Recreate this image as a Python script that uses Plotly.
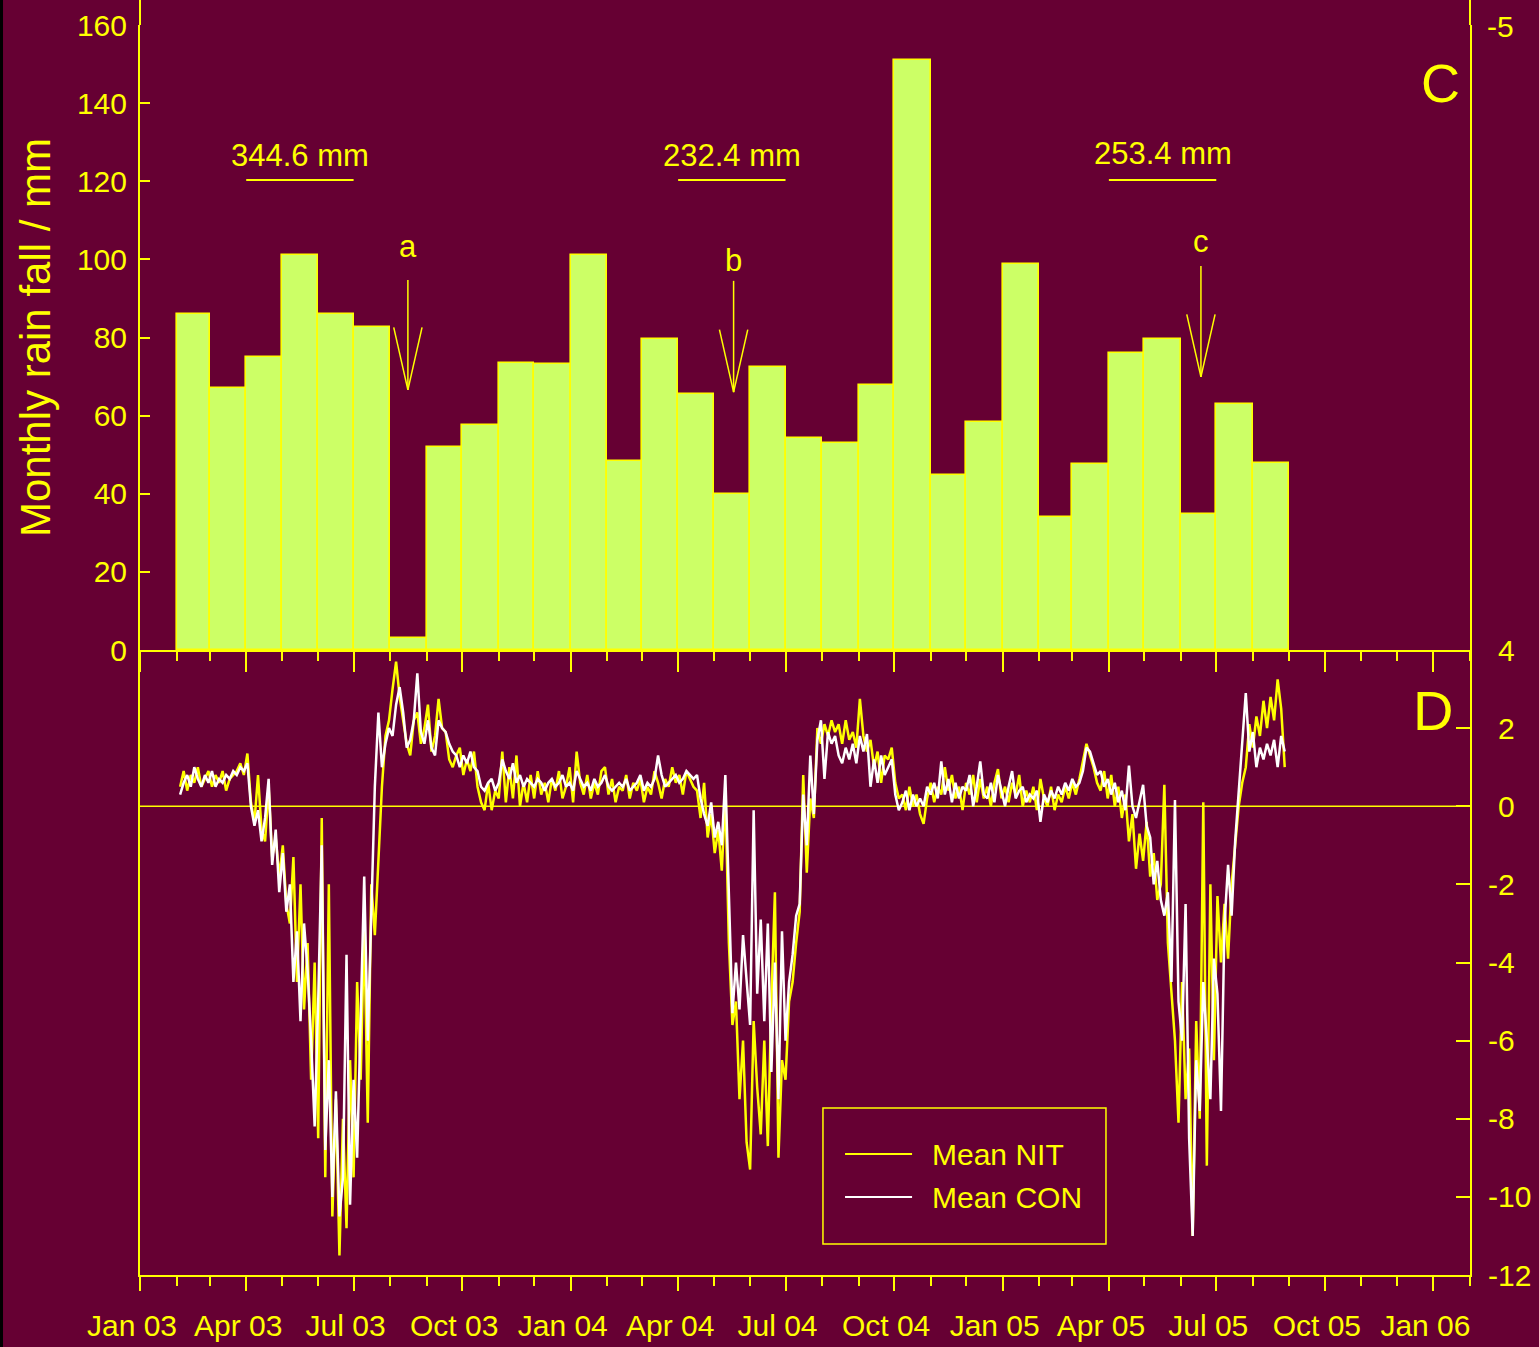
import pandas as pd
import plotly.graph_objects as go

BG = "#660033"
YELLOW = "#ffff00"
WHITE = "#ffffff"
BAR_FILL = "#ccff66"
FONT = "Liberation Sans, Arial, Helvetica, sans-serif"

# ---------------------------------------------------------------- data ----
# Monthly rainfall (mm), one bar per month from Feb 2003 to Aug 2005
rain_month_start = "2003-02-01"
rain_mm = [86, 67, 75, 101, 86, 82.6, 3, 52, 57.5, 73.5, 73.2, 101,
           48.3, 79.6, 65.5, 40, 72.5, 54.4, 53, 67.8, 151, 44.8, 58.4,
           98.8, 34, 47.6, 76, 79.6, 34.8, 63, 47.8]

# Apr-Jul windows whose rainfall total is written above the bars
window_start = ["2003-04-01", "2004-04-01", "2005-04-01"]
window_end = ["2003-07-01", "2004-07-01", "2005-07-01"]
window_line_y = [120.3, 120.3, 120.3]
window_text_y = [126.7, 126.7, 127.2]

# Marked dates a, b, c
event_labels = ["a", "b", "c"]
event_dates = ["2003-08-16", "2004-05-18", "2005-06-18"]
event_top = [94.7, 94.5, 98.3]
event_tip = [66.6, 66.0, 69.9]
event_label_y = [103.2, 99.6, 104.7]

# Mean series sampled every 3 days from 4 Feb 2003
series_start = "2003-02-04"
series_step = "3D"
mean_nit = [
    # Feb - Apr 2003
    0.5, 0.9, 0.4, 0.8, 0.6, 1.0, 0.5, 0.7, 0.9, 0.5, 0.8, 0.6, 0.9, 0.4, 0.7, 0.8, 0.9, 1.1, 0.8, 1.35,
    # Apr - Jun 2003
    0.1, -0.4, 0.8, -0.6, -0.9, 0.5, -1.3, -0.8,
    -1.8, -1.0, -2.5, -3.0, -1.3, -4.5, -2.0, -5.2,
    -3.5, -7.0, -4.0, -8.5, -0.3, -9.5, -2.0, -10.5, -7.5, -11.5,
    -8.0, -10.8, -6.5, -9.5, -4.5, -7.0, -3.0, -8.1, -2.0, -3.3,
    # Aug - Sep 2003
    -1.5, 0.5, 1.8, 2.2, 3.0, 3.7, 2.8, 2.2, 1.6,
    1.3, 2.2, 2.4, 1.6, 2.0, 2.6, 1.4, 1.8, 2.75, 2.0, 1.9, 1.2, 1.0, 1.3,
    # Oct - Dec 2003
    1.5, 0.8, 1.2, 0.9, 1.4, 0.5, 0.1, -0.1, 0.6, -0.1, 0.4, 0.2, 1.4, 0.1, 1.0, 0.2, 1.3, 0.0, 0.6, 0.1,
    # Dec 2003 - Apr 2004
    0.8, 0.2, 0.9, 0.3, 0.6, 0.1, 0.7, 0.4, 0.9, 0.2, 0.5, 1.0, 0.1, 1.4, 0.6, 0.3, 0.8, 0.2, 0.6, 0.3,
    0.9, 1.0, 0.3, 0.7, 0.1, 0.5, 0.4, 0.8, 0.2, 0.6, 0.4, 0.7, 0.1, 0.5, 0.3, 0.9, 0.6, 0.2, 0.7, 0.5,
    1.0, 0.6, 0.8, 0.3, 0.9, 0.7, 0.5,
    # Apr - May 2004
    0.4, -0.3, 0.6, -0.8, -0.2, -1.2, -0.6, -1.65, 0.3, -3.5, -5.6,
    # May - Jul 2004
    -5.0, -7.5, -6.0, -8.6, -9.3, -5.5, -7.2, -8.4, -6.0, -8.7, -5.0, -2.2, -9.0, -6.5, -7.0, -5.0, -4.5, -3.5, -2.7,
    # Jul - Oct 2004
    0.8, -1.7, 0.2, -0.3, 2.0, 1.6, 2.1, 1.8, 2.2, 1.9,
    2.1, 1.6, 2.2, 1.7, 1.9, 1.5, 2.75, 1.8, 1.4, 1.7, 1.0, 1.4, 0.6, 1.3,
    1.2, 1.5, 0.6, 0.2,
    # Oct 2004 - Mar 2005
    0.3, -0.1, 0.5, 0.0, 0.3, -0.2, -0.45, 0.2, 0.6, 0.1,
    0.5, 0.3, 1.0, 0.4, 0.8, 0.2, 0.5, -0.1, 0.6, 0.3,
    0.8, 0.1, 0.7, 0.2, 0.5, 0.0, 0.6, 0.95, 0.2, 0.5,
    0.1, 0.6, 0.3, 0.8, 0.0, 0.4, 0.1, 0.5, -0.1, 0.7,
    0.2, 0.0, 0.5, -0.1, 0.3, 0.1, 0.5, 0.2, 0.6, 0.3,
    # Mar - May 2005
    0.7, 1.2, 1.6, 1.3, 1.0, 0.6, 0.4, 0.9, 0.2, 0.8, 0.0, 0.5, -0.3, 0.3, -0.9,
    -0.2, -1.6, -0.7, -1.4, -0.4, -1.8, -1.2, -2.4, -2.0, 0.55, -3.5, -4.8,
    # Jun - Jul 2005
    -6.0, -8.1, -4.5, -7.5, -6.2, -11.0, -5.5, -8.0, 0.1, -9.2, -2.0, -6.5, -2.3, -4.0, -2.5,
    -3.9, -2.0, -1.0, 0.0, 0.6, 1.0,
    # Aug 2005
    2.1, 1.5, 2.3, 1.8, 2.7, 2.0, 2.8, 2.2, 3.25, 2.5, 1.0,
]
mean_con = [
    # Feb - Apr 2003
    0.3, 0.6, 0.8, 0.5, 1.0, 0.7, 0.5, 0.8, 0.6, 0.9, 0.5, 0.7, 0.6, 0.8, 0.7, 0.9, 0.8, 1.0, 0.9, 1.1,
    # Apr - Jun 2003
    0.0, -0.5, -0.1, -0.9, -0.3, 0.7, -1.5, -0.6,
    -2.2, -1.2, -2.7, -2.0, -4.5, -3.2, -5.5, -3.0,
    -4.2, -6.0, -8.2, -5.0, -1.0, -8.8, -6.5, -10.0, -7.3, -10.5,
    -9.5, -3.8, -10.2, -7.0, -9.0, -5.5, -1.8, -6.0, -3.0, 0.5,
    # Aug - Sep 2003
    2.4, 1.0, 1.6, 2.0, 1.8, 2.6, 3.05, 2.4, 1.5,
    1.7, 2.2, 3.4, 1.9, 1.6, 2.2, 1.5, 1.3, 2.2, 2.0, 1.9, 1.6, 1.4, 1.3,
    # Oct - Dec 2003
    1.0, 1.3, 1.1, 1.4, 1.0, 0.9, 0.5, 0.4, 0.6, 0.7, 0.4, 0.6, 1.2, 0.9, 0.7, 1.1, 0.6, 0.8, 0.5, 0.7,
    # Dec 2003 - Apr 2004
    0.6, 0.5, 0.7, 0.6, 0.4, 0.6, 0.7, 0.5, 0.6, 0.8, 0.5, 0.6, 0.4, 0.9, 0.7, 0.5, 0.6, 0.4, 0.7, 0.5,
    0.6, 0.8, 0.5, 0.4, 0.5, 0.6, 0.5, 0.7, 0.4, 0.5, 0.6, 0.8, 0.4, 0.6, 0.5, 0.7, 1.3, 0.8, 0.5, 0.6,
    0.7, 0.8, 0.6, 0.7, 0.9, 0.8, 0.7,
    # Apr - May 2004
    0.8, 0.2, -0.2, -0.5, 0.1, -0.8, -0.4, -1.0, 0.8, -2.3, -5.3,
    # May - Jul 2004
    -4.0, -5.2, -3.3, -4.5, -5.6, -0.1, -4.8, -2.9, -5.5, -3.0, -6.8, -4.0, -7.5, -3.2, -6.0, -4.5, -3.8, -2.8, -2.5,
    # Jul - Oct 2004
    0.3, -1.0, 1.3, -0.2, 1.7, 2.2, 0.7, 1.9, 1.6, 1.8,
    1.3, 1.1, 1.5, 1.2, 1.6, 1.1, 1.8, 1.4, 1.85, 0.5, 1.2, 0.6, 1.3, 0.8,
    1.0, 1.2, 0.3, -0.1,
    # Oct 2004 - Mar 2005
    0.1, 0.4, -0.1, 0.3, 0.0, 0.2, 0.0, 0.5, 0.3, 0.6,
    0.2, 1.15, 0.3, 0.7, 0.1, 0.6, 0.2, 0.5, 0.4, 0.8,
    0.0, 0.5, 1.15, 0.3, 0.2, 0.6, 0.1, 0.8, 0.4, 0.0,
    0.5, 0.9, 0.2, 0.4, 0.5, 0.1, 0.3, 0.2, 0.4, -0.4,
    0.3, 0.1, 0.4, 0.2, 0.5, 0.3, 0.6, 0.4, 0.7, 0.5,
    # Mar - May 2005
    0.6, 0.9, 1.5, 1.4, 1.1, 0.8, 0.9, 0.5, 0.7, 0.3, 0.6, 0.1, 0.4, -0.1, 1.04,
    0.0, -0.3, 0.1, 0.55, -0.5, -0.8, -2.0, -1.4, -2.4, -2.8, -2.2, -4.5,
    # Jun - Jul 2005
    0.16, -5.0, -6.0, -2.5, -8.5, -11.0, -6.5, -7.8, -4.5, -6.0, -7.5, -3.9, -4.8, -7.8, -3.0,
    -1.5, -2.8, -0.9, 0.3, 1.6, 2.9,
    # Aug 2005
    1.4, 1.9, 1.0, 1.5, 1.2, 1.6, 1.3, 1.7, 1.0, 1.8, 1.4,
]
assert len(mean_nit) == len(mean_con)

series_names = ["Mean NIT", "Mean CON"]
right_ticks = [-12, -10, -8, -6, -4, -2, 0, 2, 4]
X_RANGE = ["2003-01-01", "2006-02-01"]

# ------------------------------------------------------------- derived ----
months = pd.date_range(rain_month_start, periods=len(rain_mm), freq="MS")
month_width_ms = [(m + pd.offsets.MonthBegin(1) - m).total_seconds() * 1000 for m in months]
rain = pd.Series(rain_mm, index=months)
series_dates = pd.date_range(series_start, periods=len(mean_nit), freq=series_step)

# hyphen minus, positive values padded by a 1/3-em space so digits line up
right_ticktext = [("-" + str(abs(v))) if v < 0 else ("\u2004" + str(v)) for v in right_ticks]

fig = go.Figure()

fig.add_trace(go.Bar(
    x=months, y=rain_mm, width=month_width_ms, offset=0,
    marker=dict(color=BAR_FILL, line=dict(color=YELLOW, width=1.6)),
    xaxis="x2", yaxis="y", name="Monthly rain fall", hoverinfo="x+y",
))
fig.add_trace(go.Scatter(
    x=series_dates, y=mean_nit, mode="lines", name=series_names[0],
    line=dict(color=YELLOW, width=2.5), xaxis="x", yaxis="y2",
))
fig.add_trace(go.Scatter(
    x=series_dates, y=mean_con, mode="lines", name=series_names[1],
    line=dict(color=WHITE, width=2.5), xaxis="x", yaxis="y2",
))

line_style = dict(showgrid=False, zeroline=False, showline=True, linecolor=YELLOW,
                  linewidth=2, tickcolor=YELLOW, tickwidth=2, automargin=False)
date_ticks = dict(type="date", range=X_RANGE, dtick="M3", tick0="2003-01-01")


def minor(kind, length):
    return dict(dtick="M1", tick0="2003-01-01", ticks=kind, ticklen=length,
                tickwidth=2, tickcolor=YELLOW, showgrid=False)


shapes = []
annotations = []

# zero line of the lower panel
shapes.append(dict(type="line", xref="paper", yref="y2", x0=0, x1=1, y0=0, y1=0,
                   line=dict(color=YELLOW, width=1.5), layer="below"))

# vertical frame lines continue up to the top edge
for xp in (0, 1):
    shapes.append(dict(type="line", xref="paper", yref="paper", x0=xp, x1=xp, y0=1, y1=1.022,
                       line=dict(color=YELLOW, width=2)))
# thin dark strip at the far left
shapes.append(dict(type="rect", xref="paper", yref="paper", x0=-0.1053, x1=-0.1030,
                   y0=-0.06, y1=1.03, fillcolor="#000000", line=dict(width=0), layer="below"))

# window totals
for ws, we, ly, ty in zip(window_start, window_end, window_line_y, window_text_y):
    shapes.append(dict(type="line", xref="x2", yref="y", x0=ws, x1=we, y0=ly, y1=ly,
                       line=dict(color=YELLOW, width=2)))
    total = rain[ws:we].sum()
    mid = pd.Timestamp(ws) + (pd.Timestamp(we) - pd.Timestamp(ws)) / 2
    annotations.append(dict(xref="x2", yref="y", x=mid, y=ty, text=f"{total:.1f} mm",
                            showarrow=False, xanchor="center", yanchor="middle",
                            font=dict(size=31, color=YELLOW, family=FONT)))

# event arrows
head_days = pd.Timedelta(days=12)
head_len = 16
for lab, d, top, tip, ly in zip(event_labels, event_dates, event_top, event_tip, event_label_y):
    t = pd.Timestamp(d)
    shapes.append(dict(type="line", xref="x2", yref="y", x0=t, x1=t, y0=top, y1=tip,
                       line=dict(color=YELLOW, width=1.5)))
    for side in (-1, 1):
        shapes.append(dict(type="line", xref="x2", yref="y", x0=t + side * head_days, x1=t,
                           y0=tip + head_len, y1=tip, line=dict(color=YELLOW, width=1.5)))
    annotations.append(dict(xref="x2", yref="y", x=t, y=ly, text=lab, showarrow=False,
                            xanchor="center", yanchor="middle",
                            font=dict(size=31, color=YELLOW, family=FONT)))

# panel letters and the stray right-hand label at the top
annotations.append(dict(xref="paper", yref="paper", x=0.978, y=0.9536, text="C", showarrow=False,
                        xanchor="center", yanchor="middle", font=dict(size=54, color=YELLOW, family=FONT)))
annotations.append(dict(xref="paper", yref="paper", x=0.972, y=0.452, text="D", showarrow=False,
                        xanchor="center", yanchor="middle", font=dict(size=56, color=YELLOW, family=FONT)))
annotations.append(dict(xref="paper", yref="paper", x=1.011, y=0.999, text="-5", showarrow=False,
                        xanchor="left", yanchor="middle", font=dict(size=30, color=YELLOW, family=FONT)))

# legend box
shapes.append(dict(type="rect", xref="paper", yref="paper", x0=0.5135, x1=0.7263, y0=0.0248, y1=0.1336,
                   line=dict(color=YELLOW, width=1.5)))
for name, color, ypos in zip(series_names, [YELLOW, WHITE], [0.0968, 0.0624]):
    shapes.append(dict(type="line", xref="paper", yref="paper", x0=0.5301, x1=0.5805, y0=ypos, y1=ypos,
                       line=dict(color=color, width=2)))
    annotations.append(dict(xref="paper", yref="paper", x=0.594, y=ypos, text=name, showarrow=False,
                            xanchor="left", yanchor="middle", font=dict(size=30, color=YELLOW, family=FONT)))

fig.update_layout(
    template="none",
    width=1539, height=1347,
    paper_bgcolor=BG, plot_bgcolor=BG,
    margin=dict(l=140, r=69, t=25, b=72, pad=0),
    font=dict(family=FONT, color=YELLOW, size=30),
    showlegend=False,
    bargap=0,
    xaxis=dict(**line_style, **date_ticks, domain=[0, 1], anchor="y2", side="bottom",
               ticks="outside", ticklen=14, tickformat="%b %y",
               tickfont=dict(size=30, color=YELLOW, family=FONT),
               ticklabelstandoff=9, ticklabelshift=-8, minor=minor("outside", 9)),
    xaxis2=dict(**line_style, **date_ticks, domain=[0, 1], anchor="y", side="bottom",
                ticks="outside", ticklen=20, showticklabels=False, minor=minor("outside", 9)),
    xaxis3=dict(**line_style, **date_ticks, anchor="y", overlaying="x2", side="top",
                ticks="inside", ticklen=14, showticklabels=False, minor=minor("inside", 9)),
    yaxis=dict(**line_style, domain=[0.5, 1], anchor="x2", range=[0, 160], dtick=20, tick0=0,
               side="left", ticks="inside", ticklen=10, mirror=True,
               tickfont=dict(size=30, color=YELLOW, family=FONT), ticklabelstandoff=5,
               title=dict(text="Monthly rain fall / mm", standoff=13,
                          font=dict(size=42, color=YELLOW, family=FONT))),
    yaxis2=dict(**line_style, domain=[0, 0.5], anchor="x", range=[-12, 4], side="right",
                ticks="inside", ticklen=14, tickvals=right_ticks, ticktext=right_ticktext,
                mirror=True, tickfont=dict(size=30, color=YELLOW, family=FONT),
                ticklabelstandoff=10),
    shapes=shapes,
    annotations=annotations,
)

fig.write_html("out.html")
